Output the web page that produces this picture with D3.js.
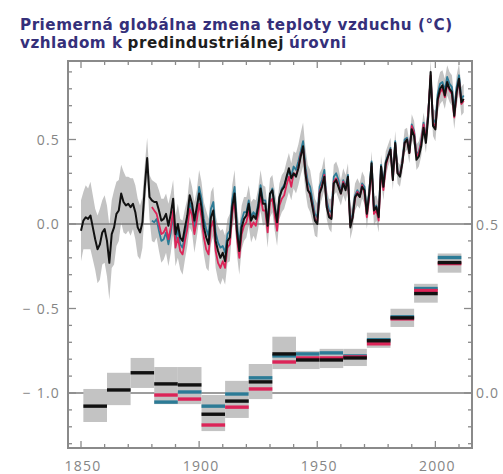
<!DOCTYPE html>
<html>
<head>
<meta charset="utf-8">
<script src="https://cdn.jsdelivr.net/npm/d3@7"></script>
<style>
  body { margin: 0; background: #fff; }
  svg { display: block; }
</style>
</head>
<body>
<svg id="chart" width="503" height="474"></svg>
<script>
// annual anomaly, left axis (°C), 1850..2012
const firstYear = 1850;
const blackAnom = [
  -0.04, 0.02, 0.04, 0.03, 0.05, -0.02, -0.09, -0.15, -0.12, -0.05,
  -0.03, -0.10, -0.23, -0.06, -0.02, 0.06, 0.08, 0.18, 0.13, 0.11,
  0.12, 0.10, 0.12, 0.07, -0.02, -0.05, 0.01, 0.22, 0.39, 0.16,
  0.14, 0.13, 0.13, 0.08, 0.02, 0.03, 0.06, -0.01, 0.06, 0.15,
  -0.06, 0.00, -0.08, -0.10, -0.02, 0.05, 0.17, 0.12, 0.02, 0.10,
  0.18, 0.10, -0.02, -0.08, -0.12, 0.04, 0.08, -0.10, -0.16, -0.20,
  -0.17, -0.22, -0.10, -0.08, 0.10, 0.18, -0.04, -0.16, -0.02, 0.03,
  0.05, 0.12, 0.02, 0.05, 0.03, 0.10, 0.21, 0.12, 0.12, -0.01,
  0.18, 0.20, 0.10, 0.01, 0.16, 0.20, 0.22, 0.28, 0.33, 0.27,
  0.30, 0.28, 0.33, 0.40, 0.46, 0.30, 0.20, 0.18, 0.10, 0.02,
  0.00, 0.18, 0.22, 0.28, 0.10, 0.04, 0.03, 0.24, 0.26, 0.22,
  0.18, 0.24, 0.20, 0.28, -0.02, 0.04, 0.16, 0.18, 0.16, 0.22,
  0.20, 0.06, 0.18, 0.36, 0.08, 0.10, 0.04, 0.34, 0.22, 0.36,
  0.40, 0.44, 0.26, 0.48, 0.30, 0.28, 0.36, 0.48, 0.50, 0.42,
  0.56, 0.52, 0.38, 0.40, 0.46, 0.57, 0.48, 0.64, 0.90, 0.58,
  0.56, 0.74, 0.80, 0.82, 0.76, 0.84, 0.80, 0.78, 0.64, 0.78,
  0.86, 0.72, 0.74
];

// the two other datasets start in 1880
const colorStart = 1880;
const redAnom = [
  0.10, 0.08, 0.06, 0.00, -0.06, -0.05, -0.02, -0.09, -0.02, 0.08,
  -0.14, -0.08, -0.16, -0.18, -0.10, -0.03, 0.09, 0.05, -0.06, 0.02,
  0.12, 0.04, -0.08, -0.15, -0.18, -0.02, 0.02, -0.16, -0.23, -0.26,
  -0.22, -0.26, -0.14, -0.12, 0.06, 0.14, -0.08, -0.20, -0.06, -0.01,
  0.01, 0.08, -0.02, 0.01, -0.01, 0.06, 0.17, 0.08, 0.08, -0.05,
  0.13, 0.15, 0.05, -0.04, 0.11, 0.15, 0.17, 0.23, 0.28, 0.22,
  0.30, 0.29, 0.33, 0.41, 0.45, 0.31, 0.21, 0.17, 0.11, 0.03,
  0.01, 0.19, 0.23, 0.29, 0.11, 0.05, 0.04, 0.25, 0.27, 0.23,
  0.18, 0.25, 0.21, 0.27, -0.01, 0.04, 0.15, 0.19, 0.16, 0.23,
  0.18, 0.04, 0.16, 0.34, 0.06, 0.08, 0.02, 0.32, 0.20, 0.34,
  0.40, 0.44, 0.26, 0.47, 0.30, 0.29, 0.36, 0.48, 0.50, 0.42,
  0.58, 0.54, 0.40, 0.42, 0.48, 0.59, 0.50, 0.66, 0.88, 0.60,
  0.57, 0.73, 0.78, 0.80, 0.75, 0.83, 0.79, 0.77, 0.63, 0.77,
  0.85, 0.71, 0.73
];
const blueAnom = [
  0.02, 0.01, 0.03, -0.04, -0.10, -0.09, -0.05, -0.12, -0.05, 0.05,
  -0.10, -0.03, -0.12, -0.14, -0.06, 0.01, 0.13, 0.08, -0.02, 0.06,
  0.22, 0.15, 0.03, -0.03, -0.07, 0.09, 0.13, -0.05, -0.11, -0.14,
  -0.13, -0.17, -0.06, -0.04, 0.14, 0.22, 0.00, -0.12, 0.02, 0.07,
  0.07, 0.14, 0.04, 0.07, 0.05, 0.12, 0.23, 0.14, 0.14, 0.01,
  0.17, 0.21, 0.11, 0.02, 0.15, 0.21, 0.23, 0.27, 0.32, 0.28,
  0.34, 0.32, 0.37, 0.43, 0.49, 0.34, 0.25, 0.22, 0.14, 0.06,
  0.04, 0.22, 0.26, 0.32, 0.14, 0.08, 0.07, 0.28, 0.30, 0.26,
  0.19, 0.26, 0.22, 0.29, 0.00, 0.06, 0.17, 0.20, 0.17, 0.24,
  0.22, 0.07, 0.19, 0.37, 0.09, 0.11, 0.05, 0.35, 0.24, 0.37,
  0.41, 0.45, 0.28, 0.49, 0.31, 0.29, 0.37, 0.50, 0.51, 0.43,
  0.59, 0.55, 0.41, 0.43, 0.49, 0.60, 0.51, 0.67, 0.86, 0.62,
  0.60, 0.77, 0.83, 0.84, 0.79, 0.87, 0.83, 0.81, 0.67, 0.81,
  0.88, 0.74, 0.76
];

// half width of the grey uncertainty band, 1850..2012
const bandHalf = [
  0.18, 0.17, 0.19, 0.18, 0.20, 0.19, 0.18, 0.20, 0.21, 0.19,
  0.20, 0.21, 0.22, 0.20, 0.22, 0.19, 0.18, 0.17, 0.18, 0.17,
  0.16, 0.17, 0.15, 0.16, 0.17, 0.16, 0.15, 0.13, 0.12, 0.13,
  0.12, 0.12, 0.11, 0.12, 0.13, 0.12, 0.12, 0.13, 0.12, 0.11,
  0.11, 0.12, 0.11, 0.12, 0.11, 0.10, 0.11, 0.10, 0.11, 0.10,
  0.10, 0.10, 0.10, 0.11, 0.10, 0.10, 0.09, 0.10, 0.10, 0.10,
  0.10, 0.10, 0.09, 0.10, 0.09, 0.10, 0.10, 0.10, 0.09, 0.09,
  0.09, 0.09, 0.09, 0.08, 0.09, 0.09, 0.09, 0.09, 0.08, 0.09,
  0.09, 0.08, 0.09, 0.09, 0.08, 0.08, 0.08, 0.09, 0.09, 0.08,
  0.09, 0.10, 0.10, 0.11, 0.11, 0.11, 0.10, 0.10, 0.09, 0.09,
  0.08, 0.08, 0.07, 0.08, 0.07, 0.07, 0.08, 0.07, 0.07, 0.07,
  0.07, 0.07, 0.07, 0.07, 0.07, 0.07, 0.07, 0.07, 0.07, 0.07,
  0.06, 0.07, 0.06, 0.06, 0.07, 0.06, 0.07, 0.06, 0.06, 0.06,
  0.06, 0.06, 0.06, 0.06, 0.06, 0.06, 0.06, 0.06, 0.06, 0.06,
  0.06, 0.06, 0.06, 0.06, 0.06, 0.06, 0.06, 0.06, 0.07, 0.06,
  0.07, 0.07, 0.07, 0.07, 0.07, 0.07, 0.07, 0.07, 0.07, 0.07,
  0.07, 0.07, 0.07
];

// decadal means, right axis (°C); first three decades have only the black series
const decadeStart = [1851, 1861, 1871, 1881, 1891, 1901, 1911, 1921, 1931, 1941, 1951, 1961, 1971, 1981, 1991, 2001];
const decBlack = [-0.039, 0.009, 0.060, 0.027, 0.024, -0.063, -0.024, 0.033, 0.116, 0.098, 0.098, 0.104, 0.155, 0.223, 0.295, 0.387];
const decRed   = [null, null, null, -0.006, -0.018, -0.095, -0.042, 0.012, 0.092, 0.104, 0.104, 0.107, 0.146, 0.220, 0.304, 0.384];
const decBlue  = [null, null, null, -0.027, 0.003, -0.039, -0.003, 0.045, 0.110, 0.116, 0.119, 0.110, 0.158, 0.226, 0.310, 0.402];
const decLow   = [-0.086, -0.036, 0.015, -0.033, -0.033, -0.113, -0.074, -0.018, 0.071, 0.071, 0.074, 0.080, 0.134, 0.196, 0.268, 0.357];
const decHigh  = [0.012, 0.060, 0.104, 0.077, 0.077, -0.006, 0.036, 0.086, 0.167, 0.125, 0.131, 0.131, 0.179, 0.250, 0.324, 0.414];

const xTickLabels = [1850, 1900, 1950, 2000];
const leftLabels = [0.5, 0.0, -0.5, -1.0];
const rightLabels = [0.5, 0.0];
const titleLine1 = "Priemerná globálna zmena teploty vzduchu (°C)";
const titleLine2 = [["vzhladom k", "#35307a"], ["predindustriálnej", "#1e1e1e"], ["úrovni", "#35307a"]];

const colRed = "#dc2458";
const colBlue = "#2c7b96";
const colAxis = "#8a8a8a";
const colBand = "#c3c3c3";

const svg = d3.select("#chart");
const frame = { left: 68, right: 472, top: 61, bottom: 448 };

const x = d3.scaleLinear().domain([1850, 2010]).range([81, 459]);
const yL = d3.scaleLinear().domain([-1, 0.5]).range([393, 139.5]);
const yR = d3.scaleLinear().domain([0, 0.5]).range([393, 224.5]);

// title, each piece its own text
function titleText(s, xx, yy, c) {
  return svg.append("text")
    .attr("x", xx).attr("y", yy)
    .attr("font-family", "'DejaVu Sans', sans-serif")
    .attr("font-weight", "bold")
    .attr("font-size", 15.2)
    .attr("letter-spacing", 0.5)
    .attr("fill", c)
    .text(s);
}
titleText(titleLine1, 20, 29.5, "#35307a");
let tx = 20;
titleLine2.forEach(([s, c]) => {
  const t = titleText(s, tx, 47.5, c);
  tx += t.node().getComputedTextLength() + 5;
});

// uncertainty band (envelope of all three series plus uncertainty)
const bandData = blackAnom.map((v, i) => {
  const yr = firstYear + i;
  const j = yr - colorStart;
  const vals = [v];
  if (j >= 0) { vals.push(redAnom[j], blueAnom[j]); }
  return { yr, lo: d3.min(vals) - bandHalf[i], hi: d3.max(vals) + bandHalf[i] };
});
svg.append("path")
  .datum(bandData)
  .attr("fill", colBand)
  .attr("d", d3.area().x(d => x(d.yr)).y0(d => yL(d.lo)).y1(d => yL(d.hi)));

// reference lines
[yL(0), yL(-1)].forEach(yy => {
  svg.append("line")
    .attr("x1", frame.left).attr("x2", frame.right)
    .attr("y1", yy).attr("y2", yy)
    .attr("stroke", "#7c7c7c").attr("stroke-width", 1.6);
});

// annual series
const line = d3.line().x(d => x(d[0])).y(d => yL(d[1]));
function series(arr, start, color, w) {
  svg.append("path")
    .datum(arr.map((v, i) => [start + i, v]))
    .attr("fill", "none")
    .attr("stroke", color)
    .attr("stroke-width", w)
    .attr("stroke-linejoin", "round")
    .attr("d", line);
}
series(blueAnom, colorStart, colBlue, 1.8);
series(redAnom, colorStart, colRed, 1.8);
series(blackAnom, firstYear, "#111", 2);

// decadal boxes
const dec = svg.append("g");
decadeStart.forEach((s, i) => {
  const x0 = x(s), x1 = x(s + 10);
  dec.append("rect")
    .attr("x", x0).attr("width", x1 - x0)
    .attr("y", yR(decHigh[i])).attr("height", yR(decLow[i]) - yR(decHigh[i]))
    .attr("fill", colBand);
  [[decBlue[i], colBlue], [decRed[i], colRed], [decBlack[i], "#111"]].forEach(([v, c]) => {
    if (v === null) return;
    dec.append("line")
      .attr("x1", x0).attr("x2", x1)
      .attr("y1", yR(v)).attr("y2", yR(v))
      .attr("stroke", c).attr("stroke-width", 3.4);
  });
});

// frame
svg.append("rect")
  .attr("x", frame.left).attr("y", frame.top)
  .attr("width", frame.right - frame.left).attr("height", frame.bottom - frame.top)
  .attr("fill", "none").attr("stroke", colAxis).attr("stroke-width", 2);

// ticks
const tickG = svg.append("g").attr("stroke", colAxis).attr("stroke-width", 1.3);
d3.range(-13, 10).forEach(k => {
  const yy = yL(k / 10);
  const len = Math.abs(k % 5) === 0 ? 8 : 4;
  tickG.append("line").attr("x1", frame.left).attr("x2", frame.left + len).attr("y1", yy).attr("y2", yy);
  tickG.append("line").attr("x1", frame.right).attr("x2", frame.right - len).attr("y1", yy).attr("y2", yy);
});
d3.range(1850, 2020, 10).forEach(yr => {
  const xx = x(yr);
  const len = yr % 50 === 0 ? 7 : 4;
  tickG.append("line").attr("x1", xx).attr("x2", xx).attr("y1", frame.bottom).attr("y2", frame.bottom - len);
  tickG.append("line").attr("x1", xx).attr("x2", xx).attr("y1", frame.top).attr("y2", frame.top + len);
});

// labels
const lab = svg.append("g")
  .attr("font-family", "'Open Sans', sans-serif")
  .attr("font-size", 14)
  .attr("fill", "#858585")
  .attr("letter-spacing", 1.2);
const fmt = v => (v < 0 ? "\u2212 " : "") + Math.abs(v).toFixed(1);
leftLabels.forEach(v => {
  lab.append("text").attr("x", 60).attr("y", yL(v) + 5).attr("text-anchor", "end").text(fmt(v));
});
rightLabels.forEach(v => {
  lab.append("text").attr("x", 476).attr("y", yR(v) + 5).text(fmt(v));
});
xTickLabels.forEach(yr => {
  lab.append("text").attr("x", x(yr) + 2).attr("y", 471).attr("text-anchor", "middle").text(yr);
});
</script>
</body>
</html>
